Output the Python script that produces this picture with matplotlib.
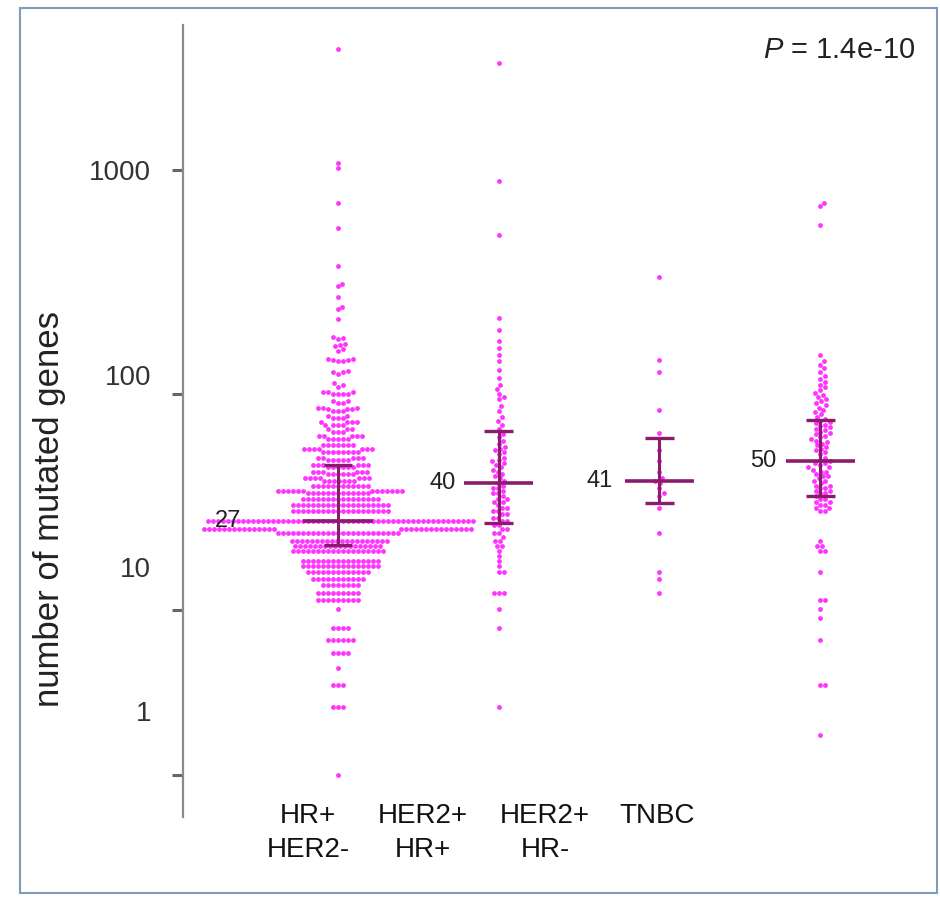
import numpy as np
import matplotlib
matplotlib.use('Agg')
import matplotlib.pyplot as plt
from matplotlib.ticker import FixedLocator, FuncFormatter, NullFormatter
from matplotlib.patches import Rectangle

plt.rcParams['font.family'] = ['Liberation Sans', 'DejaVu Sans']
plt.rcParams['mathtext.fontset'] = 'custom'
plt.rcParams['mathtext.it'] = 'Liberation Sans:italic'
plt.rcParams['mathtext.rm'] = 'Liberation Sans'

# ---------------- data ----------------
categories = ['HR+\nHER2-', 'HER2+\nHR+', 'HER2+\nHR-', 'TNBC']

hr_vals = [3450, 1075, 1020, 713, 551, 373, 310, 303, 271, 245, 239, 216, 180, 178, 176, 167,
           165, 163, 158, 156, 144, 142, 140, 127, 125, 123, 112, 110, 108, 102, 100, 93, 91,
           87, 86, 84, 80, 78, 75, 73, 70, 68, 65, 63, 59, 57, 55, 52, 51, 48, 47, 45, 44, 42,
           41, 39, 37, 36, 34, 32, 30, 27, 25, 24, 22, 21, 20, 18, 17, 16, 15, 14, 13, 12, 11,
           9, 8, 7, 6, 5, 4, 2]
hr_counts = [1, 1, 1, 1, 1, 1, 1, 1, 1, 1, 1, 1, 1, 1, 1, 1, 1, 1, 1, 1, 2, 2, 2, 1, 2, 1, 1,
             1, 1, 3, 4, 2, 2, 3, 3, 3, 2, 3, 4, 4, 3, 3, 5, 5, 7, 7, 8, 5, 5, 6, 6, 6, 6, 7, 7,
             12, 13, 13, 16, 20, 20, 54, 30, 25, 20, 18, 19, 16, 16, 13, 11, 8, 9, 9, 1, 4, 6,
             4, 1, 3, 3, 1]

her2_hrp = [4, 9, 11, 13, 13, 13, 16, 16, 17, 18, 19, 20, 21, 21, 22, 22, 23, 24, 24, 25, 25,
            26, 26, 27, 27, 28, 28, 29, 29, 30, 30, 31, 31, 32, 33, 33, 34, 34, 35, 36, 36, 37,
            38, 38, 39, 40, 41, 42, 43, 44, 45, 46, 47, 48, 49, 50, 51, 52, 54, 55, 56, 57, 58,
            60, 62, 64, 66, 70, 73, 76, 79, 84, 88, 95, 97, 100, 105, 110, 118, 128, 140, 149,
            160, 172, 193, 218, 513, 893, 3010]

her2_hrn = [13, 15, 16, 24, 31, 35, 36, 38, 40, 41, 42, 45, 50, 56, 67, 85, 125, 142, 333]

tnbc = [3, 5, 5, 8, 10, 11, 12, 12, 16, 20, 20, 21, 21, 22, 30, 30, 31, 31, 32, 32, 33, 33, 34,
        34, 35, 36, 36, 37, 37, 38, 38, 39, 39, 40, 41, 41, 42, 43, 43, 44, 45, 45, 46, 47, 47,
        48, 49, 49, 50, 51, 52, 54, 55, 56, 57, 58, 59, 60, 61, 62, 63, 64, 65, 66, 67, 68, 69,
        70, 71, 72, 73, 74, 75, 76, 77, 79, 81, 83, 85, 87, 89, 91, 93, 95, 97, 99, 101, 104,
        107, 110, 113, 117, 120, 125, 130, 135, 140, 150, 568, 690, 713]

medians = [27, 40, 41, 50]
q1 = [21.2, 26.5, 32.6, 35.1]
q3 = [48.2, 68.3, 63.7, 76.6]
median_labels = ['27', '40', '41', '50']

ytick_marks = [1000, 100, 10.9, 2.0]
ytick_label_vals = [1000, 122, 16.9, 3.85]
ytick_labels = ['1000', '100', '10', '1']

p_text = r'$\it{P}$ = 1.4e-10'
ylabel_text = 'number of mutated genes'

# ---------------- layout / style ----------------
W, H = 940, 897
group_pos = [0, 1, 2, 3]
xlabel_pos = [-0.187, 0.529, 1.288, 1.985]
median_label_dx = [-0.60, -0.27, -0.29, -0.27]
point_color = '#ff10ff'
bar_color = '#8b1c6c'

fig = plt.figure(figsize=(W / 100, H / 100), dpi=100)
fig.patches.append(Rectangle((20 / W, 1 - 893 / H), (937 - 20) / W, (893 - 8) / H,
                             transform=fig.transFigure, fill=False,
                             edgecolor='#7f9db9', lw=1.5))
ax = fig.add_axes([183 / W, 1 - 817 / H, (930 - 183) / W, (817 - 25) / H])
ax.set_yscale('log')
ax.set_ylim(1.294, 4436)
ax.set_xlim(-0.9645, 3.684)
ax.patch.set_alpha(0)


def swarm(ax, x0, values, d=5.0):
    vals = np.sort(np.asarray(values, float))
    pts = ax.transData.transform(np.column_stack([np.full(len(vals), x0, dtype=float), vals]))
    ys = pts[:, 1]
    px0 = pts[0, 0]
    cand = [0.0]
    for k in range(1, 420):
        cand += [k * 0.5, -k * 0.5]
    cand = np.array(cand)
    PX, PY, out = [], [], []
    for y in ys:
        x = 0.0
        if PY:
            ax_ = np.array(PX)
            ay_ = np.array(PY)
            m = np.abs(ay_ - y) < d
            if m.any():
                dx = cand[:, None] - ax_[m][None, :]
                dy2 = (ay_[m] - y) ** 2
                ok = np.all(dx ** 2 + dy2[None, :] >= d * d - 1e-6, axis=1)
                x = cand[np.argmax(ok)]
        PX.append(x)
        PY.append(y)
        out.append(x)
    data = ax.transData.inverted().transform(np.column_stack([px0 + np.array(out), ys]))
    return data[:, 0], vals


groups = [np.repeat(hr_vals, hr_counts), her2_hrp, her2_hrn, tnbc]
for pos, vals in zip(group_pos, groups):
    xs, ys = swarm(ax, pos, vals)
    ax.scatter(xs, ys, s=12, color=point_color, alpha=0.85, linewidths=0, zorder=2)

for i, pos in enumerate(group_pos):
    ax.plot([pos - 0.215, pos + 0.215], [medians[i]] * 2, color=bar_color, lw=2.6,
            solid_capstyle='butt', zorder=3)
    ax.plot([pos, pos], [q1[i], q3[i]], color=bar_color, lw=2.2, zorder=3)
    for q in (q1[i], q3[i]):
        ax.plot([pos - 0.09, pos + 0.09], [q, q], color=bar_color, lw=2.4,
                solid_capstyle='butt', zorder=3)
    ax.text(pos + median_label_dx[i], medians[i], median_labels[i], ha='right', va='center',
            fontsize=17, color='#222222', zorder=4)

# axes styling
for s in ('top', 'right', 'bottom'):
    ax.spines[s].set_visible(False)
ax.spines['left'].set_color('#8a8a8a')
ax.spines['left'].set_linewidth(1.6)

label_map = dict(zip(ytick_label_vals, ytick_labels))


def ylab(v, pos=None):
    for k, t in label_map.items():
        if abs(v - k) / k < 1e-6:
            return t
    return ''


ax.yaxis.remove_overlapping_locs = False
ax.yaxis.set_major_locator(FixedLocator(ytick_marks))
ax.yaxis.set_major_formatter(NullFormatter())
ax.yaxis.set_minor_locator(FixedLocator(ytick_label_vals))
ax.yaxis.set_minor_formatter(FuncFormatter(ylab))
ax.tick_params(axis='y', which='major', length=8, width=2.2, color='#666666')
ax.tick_params(axis='y', which='minor', length=0, pad=23, labelsize=20, labelcolor='#333333')

ax.set_xticks(xlabel_pos)
ax.set_xticklabels(categories, fontsize=20, linespacing=1.4, color='#111111')
ax.tick_params(axis='x', length=0, pad=-10)

ax.set_ylabel(ylabel_text, fontsize=25, color='#222222')
ax.yaxis.set_label_coords(-0.157, 0.389)

ax.text(0.980, 0.968, p_text, transform=ax.transAxes, ha='right', va='center',
        fontsize=21, color='#222222')

fig.savefig('out.png', dpi=100)
